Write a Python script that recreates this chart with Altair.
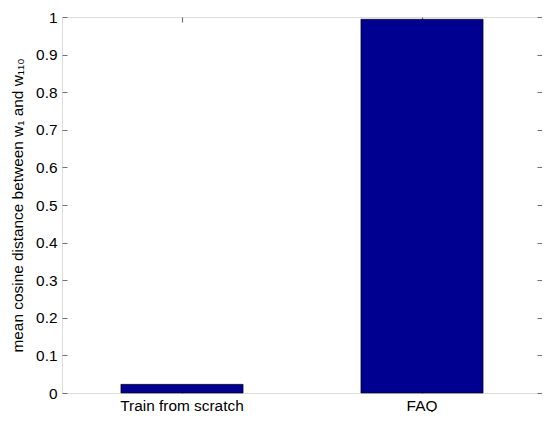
import altair as alt
import pandas as pd

categories = ["Train from scratch", "FAQ"]
values = [0.023, 0.994]
y_ticks = [0, 0.1, 0.2, 0.3, 0.4, 0.5, 0.6, 0.7, 0.8, 0.9, 1]
y_title = "mean cosine distance between w\u2081 and w\u2081\u2081\u2080"

df = pd.DataFrame({"method": categories, "dist": values})

W, H = 480, 376
AX = "#707070"
FONT = "Liberation Sans"
BAR = "#000090"
FS = 15.4

x_scale = alt.Scale(paddingInner=0.491, paddingOuter=0.2455)
y_scale = alt.Scale(domain=[0, 1], nice=False, zero=True)

base = alt.Chart(df)

bars = base.mark_bar(color=BAR, stroke="#000000", strokeWidth=0.6).encode(
    x=alt.X("method:N", sort=categories, scale=x_scale,
            axis=alt.Axis(orient="bottom", title=None, labelAngle=0, ticks=False,
                          domain=False, labelFont=FONT, labelFontSize=FS,
                          labelColor="black", labelPadding=5)),
    y=alt.Y("dist:Q", scale=y_scale,
            axis=alt.Axis(orient="left", values=y_ticks, format="~g", ticks=False,
                          domain=False, grid=False, title=y_title,
                          titleFont=FONT, titleFontSize=FS, titleFontWeight="normal",
                          titleColor="black", titlePadding=10,
                          labelFont=FONT, labelFontSize=FS, labelColor="black",
                          labelPadding=5)),
)

def tick_layer(xo, yo):
    return base.mark_bar(opacity=0).encode(
        x=alt.X("method:N", sort=categories, scale=x_scale,
                axis=alt.Axis(orient=xo, offset=-H, labels=False, domain=False,
                              ticks=True, tickSize=5, tickColor=AX, tickWidth=1.2,
                              title=None)),
        y=alt.Y("dist:Q", scale=y_scale,
                axis=alt.Axis(orient=yo, offset=-W, values=y_ticks, labels=False,
                              domain=False, grid=False, ticks=True, tickSize=5,
                              tickColor=AX, tickWidth=1, title=None)),
    )

chart = alt.layer(
    bars,
    tick_layer("top", "right"),
    tick_layer("bottom", "left"),
).resolve_axis(x="independent", y="independent").properties(
    width=W, height=H,
    autosize=alt.AutoSizeParams(type="none"),
    padding={"left": 54, "top": 9, "right": 0, "bottom": 19},
).configure_view(stroke=AX, strokeWidth=1.3).configure(background="white")

chart.save("out.html", embed_options={"renderer": "svg", "actions": False})
